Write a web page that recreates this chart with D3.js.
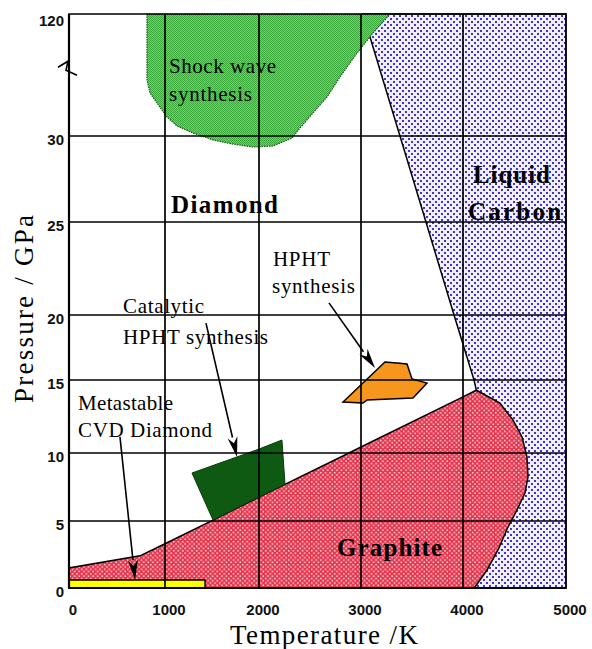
<!DOCTYPE html>
<html>
<head>
<meta charset="utf-8">
<title>Carbon phase diagram</title>
<script src="https://cdn.jsdelivr.net/npm/d3@7"></script>
<style>
  body { margin: 0; background: #fff; }
  svg { display: block; }
  .tick-label { font-family: "Liberation Sans", Arial, sans-serif; font-size: 15px; font-weight: bold; fill: #111; }
  .region-label { font-family: "Liberation Serif", "Times New Roman", serif; font-size: 21px; fill: #000; }
  .region-label.bold { font-weight: bold; font-size: 25px; }
  .axis-title { font-family: "Liberation Serif", "Times New Roman", serif; font-size: 27px; fill: #000; }
  .grid line { stroke: #000; stroke-width: 1.7; }
</style>
</head>
<body>
<svg id="chart" width="592" height="649"></svg>
<script>
// axis ticks (the original drawing is not evenly spaced, so each tick gets its own spot)
var tempTicks = [0, 1000, 2000, 3000, 4000, 5000];
var pressTicks = [0, 5, 10, 15, 20, 25, 30, 120];

// phase regions, [temperature K, pressure GPa]
var liquidCarbon = [[3020, 120], [5000, 120], [5000, 0], [4110, 0], [4130, 14.3],
                    [4107, 15], [3912, 20], [3637, 25], [3382, 30]];
var graphite = [[0, 0], [0, 1.5], [740, 2.4], [1000, 3.3], [1511, 5.07], [2000, 6.76],
                [2882, 10], [3000, 10.41], [4000, 13.84], [4130, 14.3], [4359, 13.42],
                [4485, 12.26], [4573, 11.1], [4621, 9.71], [4631, 8.24], [4602, 7.06],
                [4524, 5.81], [4437, 4.55], [4340, 2.84], [4233, 1.34], [4110, 0]];
var shockWave = [[812, 120], [812, 71.3], [844, 61.7], [917, 54.3], [1021, 44], [1128, 37.4],
                 [1298, 32.2], [1511, 29.77], [1723, 29.53], [1936, 29.36], [2137, 29.42],
                 [2324, 29.88], [2402, 35.9], [2529, 47], [2667, 58.8], [2794, 73.5],
                 [2961, 91.2], [3118, 106], [3284, 120]];
var catalyticHPHT = [[1287, 8.53], [2000, 10.27], [2225, 10.89], [2255, 7.7], [2000, 6.76], [1511, 5.07]];
var hphtSynthesis = [[2824, 13.49], [3235, 16.38], [3353, 16.31], [3451, 16.23], [3500, 15.08],
                     [3647, 14.79], [3510, 13.77], [3059, 13.63], [3020, 13.42]];
var cvdDiamond = [[0, 0], [1426, 0], [1426, 0.6], [0, 0.6]];

// arrows from label to region
var arrows = [
  { from: [531, 11.1], to: [688, 0.6] },
  { from: [1436, 19.38], to: [1766, 9.71] },
  { from: [2686, 20.65], to: [3137, 15.92] }
];

var labels = [
  { text: "Shock wave", t: 1043, p: 76.5, w: 107 },
  { text: "synthesis", t: 1043, p: 55.8, w: 83 },
  { text: "Diamond", t: 1064, p: 25.5, w: 107, bold: true },
  { text: "Liquid", t: 4097, p: 27.27, w: 77, bold: true },
  { text: "Carbon", t: 4049, p: 25.12, w: 93, bold: true },
  { text: "HPHT", t: 2137, p: 22.63, w: 57 },
  { text: "synthesis", t: 2127, p: 21.18, w: 83 },
  { text: "Catalytic", t: 563, p: 20.1, w: 81 },
  { text: "HPHT synthesis", t: 563, p: 17.77, w: 145 },
  { text: "Metastable", t: 94, p: 12.95, w: 95 },
  { text: "CVD Diamond", t: 94, p: 11.1, w: 134 },
  { text: "Graphite", t: 2765, p: 2.39, w: 105, bold: true }
];

var svg = d3.select('#chart');

var x = d3.scaleLinear().domain(tempTicks).range([69, 165, 259, 361, 463, 566]);
var y = d3.scaleLinear().domain(pressTicks).range([588, 521, 453, 380, 315, 222, 136, 14]);

var defs = svg.append('defs');

var pBlue = defs.append('pattern').attr('id', 'dots-blue')
  .attr('patternUnits', 'userSpaceOnUse').attr('width', 6).attr('height', 6);
pBlue.append('rect').attr('width', 6).attr('height', 6).attr('fill', '#f1efff');
pBlue.append('rect').attr('x', 0).attr('y', 0).attr('width', 2).attr('height', 2).attr('fill', '#4436b8');
pBlue.append('rect').attr('x', 3).attr('y', 3).attr('width', 2).attr('height', 2).attr('fill', '#4436b8');

var pRed = defs.append('pattern').attr('id', 'hatch-red')
  .attr('patternUnits', 'userSpaceOnUse').attr('width', 4.6).attr('height', 4.6);
pRed.append('rect').attr('width', 4.6).attr('height', 4.6).attr('fill', '#e5354d');
pRed.append('rect').attr('x', 0.4).attr('y', 0.4).attr('width', 1.5).attr('height', 1.5).attr('fill', '#fff').attr('opacity', 0.85);
pRed.append('rect').attr('x', 2.7).attr('y', 2.7).attr('width', 1.5).attr('height', 1.5).attr('fill', '#fff').attr('opacity', 0.85);

var pGreen = defs.append('pattern').attr('id', 'check-green')
  .attr('patternUnits', 'userSpaceOnUse').attr('width', 2).attr('height', 2);
pGreen.append('rect').attr('width', 2).attr('height', 2).attr('fill', '#6fcd6f');
pGreen.append('rect').attr('width', 1).attr('height', 1).attr('fill', '#3caa3c');
pGreen.append('rect').attr('x', 1).attr('y', 1).attr('width', 1).attr('height', 1).attr('fill', '#3caa3c');

var area = d3.line().x(function(d) { return x(d[0]); }).y(function(d) { return y(d[1]); });
function shape(pts) { return area(pts) + 'Z'; }

var regions = svg.append('g').attr('class', 'regions');

regions.append('path').attr('d', shape(liquidCarbon))
  .attr('fill', 'url(#dots-blue)').attr('stroke', '#000').attr('stroke-width', 1.5);
regions.append('path').attr('d', shape(graphite))
  .attr('fill', 'url(#hatch-red)').attr('stroke', '#000').attr('stroke-width', 1.5);
regions.append('path').attr('d', shape(shockWave))
  .attr('fill', 'url(#check-green)').attr('stroke', '#1d5a1d').attr('stroke-width', 1.2)
  .attr('stroke-dasharray', '1.5,1');
regions.append('path').attr('d', shape(catalyticHPHT))
  .attr('fill', '#0e5a12').attr('stroke', '#0a3a0a').attr('stroke-width', 1);
regions.append('path').attr('d', shape(hphtSynthesis))
  .attr('fill', '#f7961c').attr('stroke', '#000').attr('stroke-width', 1.5);
regions.append('path').attr('d', shape(cvdDiamond))
  .attr('fill', '#ffff00').attr('stroke', '#000').attr('stroke-width', 1.5);

// grid
var grid = svg.append('g').attr('class', 'grid');
grid.selectAll('.vx').data(tempTicks.slice(1, -1)).enter().append('line')
  .attr('x1', function(d) { return x(d); }).attr('x2', function(d) { return x(d); })
  .attr('y1', y(0)).attr('y2', y(120));
grid.selectAll('.hy').data(pressTicks.slice(1, -1)).enter().append('line')
  .attr('y1', function(d) { return y(d); }).attr('y2', function(d) { return y(d); })
  .attr('x1', x(0)).attr('x2', x(5000));

// frame
svg.append('rect').attr('x', x(0)).attr('y', y(120))
  .attr('width', x(5000) - x(0)).attr('height', y(0) - y(120))
  .attr('fill', 'none').attr('stroke', '#000').attr('stroke-width', 1.5);
svg.append('line').attr('x1', x(0)).attr('x2', x(0)).attr('y1', y(120)).attr('y2', y(0))
  .attr('stroke', '#000').attr('stroke-width', 2.2);
svg.append('line').attr('x1', x(0)).attr('x2', x(5000)).attr('y1', y(0)).attr('y2', y(0))
  .attr('stroke', '#000').attr('stroke-width', 2.2);

// axis break mark
var bx = x(0), by = y(80);
svg.append('path')
  .attr('d', 'M' + (bx - 11) + ',' + (by - 1) + 'L' + (bx - 1) + ',' + (by - 7) +
             'L' + (bx - 3) + ',' + (by + 2) + 'L' + (bx + 8) + ',' + (by + 7))
  .attr('fill', 'none').attr('stroke', '#000').attr('stroke-width', 1.6);

// tick labels
svg.append('g').selectAll('text').data(tempTicks).enter().append('text')
  .attr('class', 'tick-label').attr('text-anchor', 'middle')
  .attr('x', function(d) { return x(d) + 4; }).attr('y', y(0) + 27)
  .text(function(d) { return d; });
svg.append('g').selectAll('text').data(pressTicks).enter().append('text')
  .attr('class', 'tick-label').attr('text-anchor', 'end')
  .attr('x', x(0) - 5).attr('y', function(d) { return y(d) + (d === 120 ? 12 : 9); })
  .text(function(d) { return d; });

// axis titles
svg.append('text').attr('class', 'axis-title')
  .attr('x', 230).attr('y', 644)
  .attr('textLength', 188).attr('lengthAdjust', 'spacing')
  .text('Temperature /K');
svg.append('text').attr('class', 'axis-title')
  .attr('transform', 'translate(33,309) rotate(-90)')
  .attr('text-anchor', 'middle')
  .attr('textLength', 188).attr('lengthAdjust', 'spacing')
  .text('Pressure / GPa');

// region labels
svg.append('g').selectAll('text').data(labels).enter().append('text')
  .attr('class', function(d) { return 'region-label' + (d.bold ? ' bold' : ''); })
  .attr('x', function(d) { return x(d.t); })
  .attr('y', function(d) { return y(d.p); })
  .attr('textLength', function(d) { return d.w; })
  .attr('lengthAdjust', 'spacing')
  .text(function(d) { return d.text; });

// arrows
var arrowG = svg.append('g');
arrows.forEach(function(a) {
  var x0 = x(a.from[0]), y0 = y(a.from[1]), x1 = x(a.to[0]), y1 = y(a.to[1]);
  var ang = Math.atan2(y1 - y0, x1 - x0),
      ux = Math.cos(ang), uy = Math.sin(ang),
      len = 20, hw = 5;
  var bxa = x1 - ux * len, bya = y1 - uy * len;
  arrowG.append('line')
    .attr('x1', x0).attr('y1', y0).attr('x2', bxa).attr('y2', bya)
    .attr('stroke', '#000').attr('stroke-width', 1.6);
  arrowG.append('path')
    .attr('d', 'M' + x1 + ',' + y1 +
               'L' + (bxa - uy * hw) + ',' + (bya + ux * hw) +
               'L' + (bxa + ux * 6) + ',' + (bya + uy * 6) +
               'L' + (bxa + uy * hw) + ',' + (bya - ux * hw) + 'Z')
    .attr('fill', '#000');
});
</script>
</body>
</html>
